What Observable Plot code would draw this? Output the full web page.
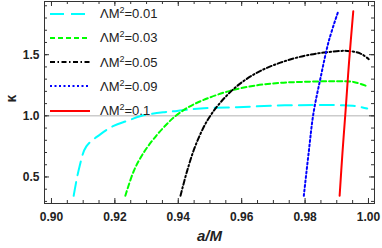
<!DOCTYPE html>
<html><head><meta charset="utf-8">
<script src="https://cdn.jsdelivr.net/npm/d3@7"></script>
<script src="https://cdn.jsdelivr.net/npm/@observablehq/plot@0.6"></script>
<style>
body{margin:0;background:#fff;}
#wrap{position:relative;width:382px;height:248px;}
#legend{position:absolute;left:0;top:0;font-family:"Liberation Sans",Arial,sans-serif;font-size:13px;color:#222;}
.row{position:absolute;left:50px;height:20px;display:flex;align-items:center;white-space:nowrap;}
.row svg{display:block;margin-right:10px;}
.sup{font-size:9px;position:relative;top:-5px;}
</style></head>
<body>
<div id="wrap"><div id="legend"></div></div>
<script>
// data
const seriesNames = ["0.01", "0.03", "0.05", "0.09", "0.1"];
const seriesColors = ["#00ffff", "#00ff00", "#000000", "#0000ff", "#ff0000"];
const seriesDash = ["14,7", "5,3", "5,2.5,1.5,2.5", "2,2.5", null];

const a001 = [0.907, 0.9088, 0.911, 0.9155, 0.9196, 0.9239, 0.9285, 0.9356, 0.9396, 0.947, 0.9586, 0.971, 0.9827, 0.992, 0.9964, 0.9996];
const k001 = [0.346, 0.58, 0.75, 0.85, 0.918, 0.959, 1.0, 1.03, 1.04, 1.06, 1.07, 1.084, 1.088, 1.086, 1.078, 1.06];

const a003 = [0.9233, 0.926, 0.9291, 0.9333, 0.9365, 0.9385, 0.9428, 0.948, 0.9565, 0.9649, 0.9722, 0.9796, 0.9901, 0.9953, 0.9996];
const k003 = [0.346, 0.551, 0.7, 0.845, 0.935, 0.985, 1.065, 1.13, 1.206, 1.25, 1.27, 1.278, 1.283, 1.277, 1.242];

const a005 = [0.9407, 0.9428, 0.9454, 0.9491, 0.9533, 0.9586, 0.9649, 0.9722, 0.9796, 0.9859, 0.9933, 0.9975, 1.0001];
const k005 = [0.346, 0.55, 0.755, 0.959, 1.109, 1.245, 1.354, 1.435, 1.49, 1.517, 1.531, 1.509, 1.463];

const a009 = [0.9796, 0.9812, 0.9826, 0.9849, 0.9875, 0.9904];
const k009 = [0.346, 0.714, 1.014, 1.313, 1.613, 1.85];

const a010 = [0.9909, 0.9918, 0.9928, 0.9939, 0.9952];
const k010 = [0.346, 0.7, 1.05, 1.45, 1.855];

const xMajor = [0.90, 0.92, 0.94, 0.96, 0.98, 1.00];
const xMinor = d3.range(0, 21).map(i => 0.90 + i * 0.005);
const yMajor = [0.5, 1.0, 1.5];
const yMinor = d3.range(3, 20).map(i => i / 10);

const allA = [a001, a003, a005, a009, a010];
const allK = [k001, k003, k005, k009, k010];

const W = 382, H = 248, mL = 44, mR = 8, mT = 1, mB = 45;
const fw = W - mL - mR, fh = H - mT - mB;
const tickColor = "#333";

const lineMarks = allA.map((arr, s) =>
  Plot.line(arr.map((a, i) => ({a, k: allK[s][i]})), {
    x: "a", y: "k", stroke: seriesColors[s], strokeWidth: 2,
    strokeDasharray: seriesDash[s] || undefined, curve: "catmull-rom"
  })
);

const chart = Plot.plot({
  width: W, height: H,
  marginLeft: mL, marginRight: mR, marginTop: mT, marginBottom: mB,
  x: {domain: [0.8978, 1.0019]},
  y: {domain: [0.283, 1.935]},
  style: {fontFamily: "'Liberation Sans', Arial, sans-serif", fontSize: "12px", fontWeight: "bold", color: "#222", background: "#fff"},
  marks: [
    Plot.ruleY([1], {stroke: "#cccccc", strokeWidth: 1.5}),
    ...lineMarks,
    // inward frame ticks
    Plot.tickX(xMajor, {x: d => d, insetTop: fh - 5, stroke: tickColor}),
    Plot.tickX(xMinor, {x: d => d, insetTop: fh - 3, stroke: tickColor}),
    Plot.tickX(xMajor, {x: d => d, insetBottom: fh - 5, stroke: tickColor}),
    Plot.tickX(xMinor, {x: d => d, insetBottom: fh - 3, stroke: tickColor}),
    Plot.tickY(yMajor, {y: d => d, insetRight: fw - 5, stroke: tickColor}),
    Plot.tickY(yMinor, {y: d => d, insetRight: fw - 3, stroke: tickColor}),
    Plot.tickY(yMajor, {y: d => d, insetLeft: fw - 5, stroke: tickColor}),
    Plot.tickY(yMinor, {y: d => d, insetLeft: fw - 3, stroke: tickColor}),
    Plot.frame({stroke: tickColor, strokeWidth: 1}),
    Plot.axisX({ticks: xMajor, anchor: "bottom", tickSize: 0, tickPadding: 9, tickFormat: d3.format(".2f"), label: null}),
    Plot.axisY({ticks: yMajor, anchor: "left", tickSize: 0, tickPadding: 5, tickFormat: d3.format(".1f"), label: null}),
    Plot.text(["a/M"], {text: d => d, frameAnchor: "bottom", dy: 37, fontSize: 15, fontStyle: "italic", fontWeight: "bold"}),
    Plot.text(["κ"], {text: d => d, frameAnchor: "left", dx: -33, rotate: -90, fontSize: 14, fontWeight: "bold"})
  ]
});
document.getElementById("wrap").prepend(chart);

// legend
const legend = document.getElementById("legend");
const rowCenters = [13.5, 37.8, 62, 86.3, 110.5];
seriesNames.forEach((n, s) => {
  const row = document.createElement("div");
  row.className = "row";
  row.style.top = (rowCenters[s] - 10) + "px";
  const dash = seriesDash[s] ? ` stroke-dasharray="${seriesDash[s]}"` : "";
  row.innerHTML = `<svg width="40" height="4"><line x1="0" y1="2" x2="40" y2="2" stroke="${seriesColors[s]}" stroke-width="2"${dash}/></svg><span>ΛM<span class="sup">2</span>=${n}</span>`;
  legend.appendChild(row);
});
</script>
</body></html>
